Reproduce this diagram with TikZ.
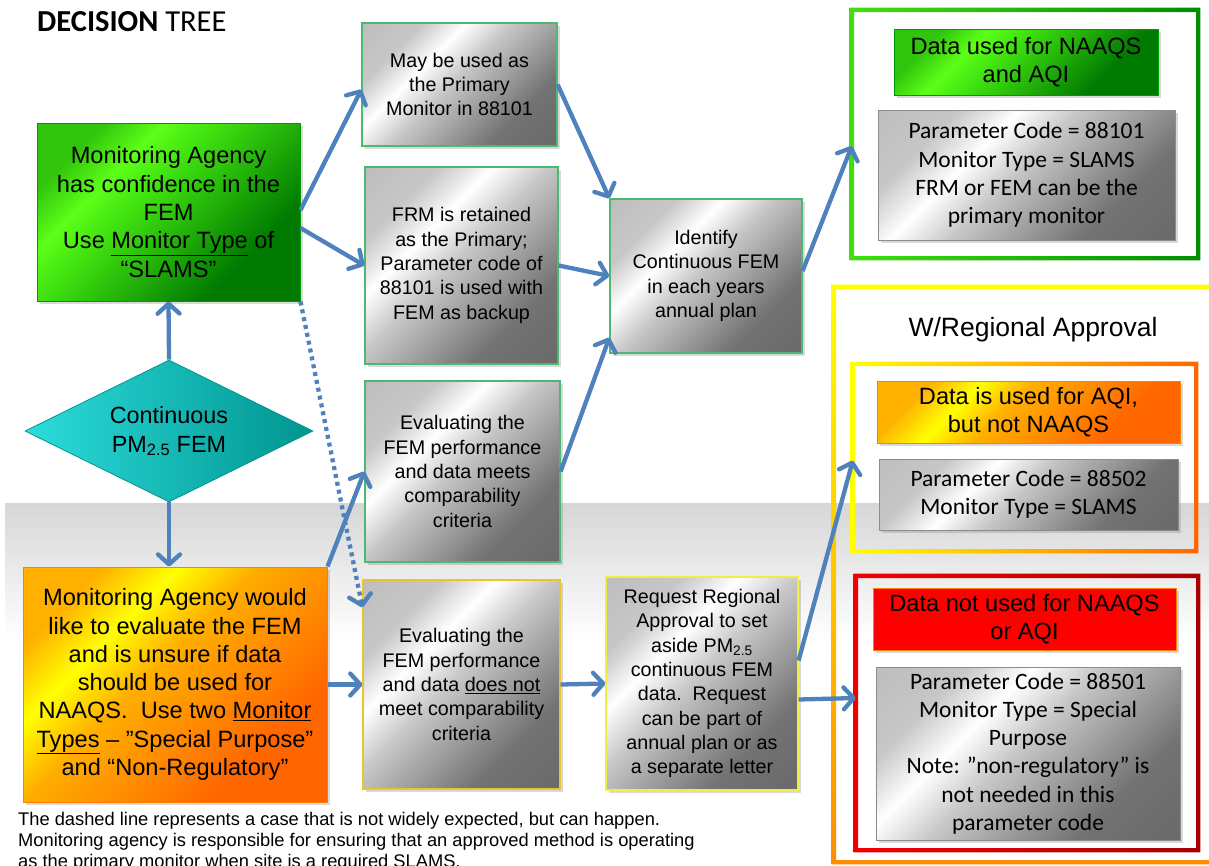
\documentclass[tikz,border=0pt]{standalone}
\usepackage{fontspec}
\setmainfont{Liberation Sans}
\newfontfamily\calib{Carlito}
\usetikzlibrary{shapes.geometric,arrows.meta,shadows}

\definecolor{arrowblue}{HTML}{4F81BD}
\definecolor{limelight}{HTML}{5CFF18}
\definecolor{limemid}{HTML}{3FE010}
\definecolor{limecorner}{HTML}{30C40C}
\definecolor{limedark}{HTML}{007A00}
\definecolor{boxgreen}{HTML}{4CB870}
\definecolor{boxgold}{HTML}{E8C430}
\definecolor{boxyellow}{HTML}{EEEE44}
\definecolor{orangedark}{HTML}{FF6600}
\definecolor{orangemid}{HTML}{FFB000}
\definecolor{cyanleft}{HTML}{2CDCDC}
\definecolor{cyanmid}{HTML}{00EEEE}
\definecolor{cyanright}{HTML}{00958F}

\pgfdeclareverticalshading{metal}{100bp}{color(0bp)=(black!62); color(30bp)=(black!55); color(52bp)=(black!22); color(62bp)=(white); color(72bp)=(black!22); color(100bp)=(black!30)}
\pgfdeclareverticalshading{lime}{100bp}{color(0bp)=(limedark); color(30bp)=(limedark); color(56bp)=(limemid); color(65bp)=(limelight); color(75bp)=(limecorner); color(100bp)=(limecorner)}
\pgfdeclareverticalshading{sunset}{100bp}{color(0bp)=(orangedark); color(30bp)=(orangedark); color(55bp)=(orangemid); color(65bp)=(yellow); color(75bp)=(orangemid); color(100bp)=(orangemid)}

% thick frame with a colour gradient along it
\newcommand{\framering}[2]{%
  \shade[#2, even odd rule]
    ([shift={(-2.2pt,2.2pt)}]#1.north west) rectangle ([shift={(2.2pt,-2.2pt)}]#1.south east)
    ([shift={(2.2pt,-2.2pt)}]#1.north west) rectangle ([shift={(-2.2pt,2.2pt)}]#1.south east);}

\tikzset{
  box/.style={rectangle, align=center, inner sep=2pt,
    drop shadow={opacity=0.3, shadow xshift=2.5pt, shadow yshift=-2.5pt}},
  bigtext/.style={font=\fontsize{23.6}{28.3}\selectfont},
  smalltext/.style={font=\fontsize{19.7}{24.3}\selectfont},
  codetext/.style={font=\calib\fontsize{23.5}{28.3}\selectfont},
  limebox/.style={box, bigtext, shade, shading=lime, shading angle=45, draw=green!60!black, line width=1pt},
  sunbox/.style={box, bigtext, shade, shading=sunset, shading angle=45, draw=orange, line width=1pt},
  metalbox/.style={box, smalltext, shade, shading=metal, shading angle=45, draw=boxgreen, line width=1.2pt},
  codebox/.style={box, codetext, shade, shading=metal, shading angle=45, draw=black!45, line width=1pt},
  frame/.style={rectangle, inner sep=0pt},
  link/.style={draw=arrowblue, line width=4.3pt, -{Straight Barb[length=10pt,width=22pt,round]}},
  maybe/.style={link, dash pattern=on 4pt off 4pt},
}

\begin{document}
\begin{tikzpicture}[x=1pt,y=-1pt]
\useasboundingbox (0,0) rectangle (1209,865);

% grey band behind the lower part
\shade[top color=black!16, bottom color=white] (5,503) rectangle (1209,640);

\node[anchor=west, inner sep=0pt, font=\calib\fontsize{30.5}{35}\selectfont] (title) at (37,22) {\textbf{DECISION} TREE};

% left column
\node[limebox, minimum width=263pt, minimum height=178pt] (conf) at (168.5,212)
  {Monitoring Agency\\has confidence in the\\FEM\\Use \underline{Monitor Type} of\\“SLAMS”};
\node[diamond, aspect=2, inner sep=0pt, minimum width=288pt, minimum height=142pt,
  left color=cyanleft, middle color=cyanmid, right color=cyanright, draw=cyanright, line width=0.8pt,
  align=center, font=\fontsize{23.4}{29}\selectfont] (cpm) at (169,431)
  {Continuous\\PM\textsubscript{2.5} FEM};
\node[sunbox, minimum width=304pt, minimum height=235pt] (unsure) at (175,684.5)
  {Monitoring Agency would\\like to evaluate the FEM\\and is unsure if data\\should be used for\\NAAQS.\ \ Use two \underline{Monitor}\\\underline{Types} – ”Special Purpose”\\and “Non-Regulatory”};

% middle columns
\node[metalbox, minimum width=195pt, minimum height=123pt] (may) at (459.5,84.5)
  {May be used as\\the Primary\\Monitor in 88101};
\node[metalbox, minimum width=193pt, minimum height=197pt] (frm) at (461.5,265.5)
  {FRM is retained\\as the Primary;\\Parameter code of\\88101 is used with\\FEM as backup};
\node[metalbox, minimum width=195pt, minimum height=181pt] (meets) at (462.5,471.5)
  {Evaluating the\\FEM performance\\and data meets\\comparability\\criteria};
\node[metalbox, draw=boxgold, minimum width=197pt, minimum height=209pt] (notmeet) at (461.5,684.5)
  {Evaluating the\\FEM performance\\and data \underline{does not}\\meet comparability\\criteria};
\node[metalbox, minimum width=192pt, minimum height=154pt] (ident) at (706,276)
  {Identify\\Continuous FEM\\in each years\\annual plan};
\node[metalbox, draw=boxyellow, minimum width=192pt, minimum height=213pt] (request) at (702,683.5)
  {Request Regional\\Approval to set\\aside PM\textsubscript{2.5}\\continuous FEM\\data.\ \ Request\\can be part of\\annual plan or as\\a separate letter};

% right side: green frame
\node[frame, minimum width=346pt, minimum height=248pt] (gframe) at (1025,134) {};
\framering{gframe}{left color=limemid, right color=green!55!black}
\node[limebox, minimum width=264pt, minimum height=66pt] (gdata) at (1026,62) {Data used for NAAQS\\and AQI};
\node[codebox, minimum width=297pt, minimum height=130pt] (gcode) at (1026.5,175)
  {Parameter Code = 88101\\Monitor Type = SLAMS\\FRM or FEM can be the\\primary monitor};

% yellow frame with regional approval
\node[frame, minimum width=401pt, minimum height=575pt] (yframe) at (1034.5,574.5) {};
\framering{yframe}{top color=yellow, bottom color=orange!90!yellow}
\node[inner sep=0pt, font=\fontsize{26.5}{30}\selectfont] (approval) at (1033,330) {W/Regional Approval};

\node[frame, minimum width=343pt, minimum height=187pt] (oframe) at (1024.5,457.5) {};
\framering{oframe}{left color=yellow, right color=orange!80!red}
\node[sunbox, minimum width=303pt, minimum height=62pt] (odata) at (1028.5,412) {Data is used for AQI,\\but not NAAQS};
\node[codebox, minimum width=299pt, minimum height=71pt] (ocode) at (1028.5,494.5)
  {Parameter Code = 88502\\Monitor Type = SLAMS};

\node[frame, minimum width=342pt, minimum height=274pt] (rframe) at (1027,713) {};
\framering{rframe}{left color=red!95!black, right color=red!65!black}
\node[box, bigtext, fill=red, draw=orange, line width=1pt, minimum width=303pt, minimum height=62pt] (rdata) at (1024.5,619)
  {Data not used for NAAQS\\or AQI};
\node[codebox, minimum width=304pt, minimum height=173pt] (rcode) at (1028,753.5)
  {Parameter Code = 88501\\Monitor Type = Special\\Purpose\\Note: ”non-regulatory” is\\not needed in this\\parameter code};

\node[anchor=north west, align=left, inner sep=0pt, font=\fontsize{18.3}{21}\selectfont] (note) at (18,812)
  {The dashed line represents a case that is not widely expected, but can happen.\\
   Monitoring agency is responsible for ensuring that an approved method is operating\\
   as the primary monitor when site is a required SLAMS.};

% connectors
\draw[link] (cpm.north) -- (conf.south);
\draw[link] (cpm.south) -- (cpm.south |- unsure.north);
\draw[link] ([yshift=2pt]conf.east) -- ([yshift=-5pt]may.west);
\draw[link] ([yshift=-16pt]conf.east) -- (frm.west);
\draw[maybe] (conf.south east) -- ([yshift=-28pt]notmeet.north west);
\draw[link] (unsure.north east) -- (meets.west);
\draw[link] (unsure.east) -- (notmeet.west);
\draw[link] (may.east) -- (ident.north west);
\draw[link] (frm.east) -- (ident.west);
\draw[link] (meets.east) -- ([yshift=16pt]ident.south west);
\draw[link] (notmeet.east) -- (request.west);
\draw[link] ([yshift=5pt]ident.east) -- ([yshift=-12pt]gframe.west);
\draw[link] ([yshift=23pt]request.east) -- ([yshift=-3pt]oframe.west);
\draw[link] ([yshift=-16pt]request.east) -- ([yshift=15pt]rframe.west);
\end{tikzpicture}
\end{document}
